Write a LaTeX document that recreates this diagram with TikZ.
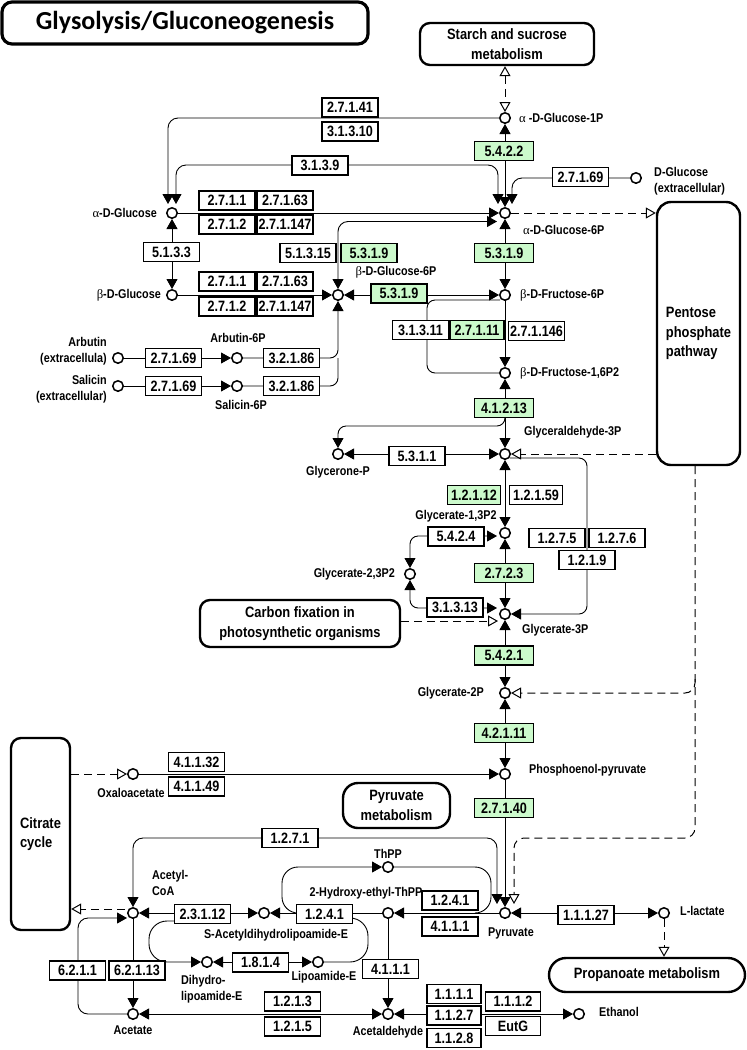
\documentclass[tikz,border=0pt]{standalone}
\usepackage{fontspec}
\setmainfont{Liberation Sans}
\newfontfamily\kfont[FakeStretch=0.84]{Liberation Sans}
\newfontfamily\lfont[FakeStretch=0.85]{Liberation Sans}
\newfontfamily\mfont[FakeStretch=0.86]{Liberation Sans}
\newfontfamily\grkfont{Liberation Serif}
\newfontfamily\ttlfont{Carlito}
\usetikzlibrary{arrows.meta,calc}
\definecolor{kgreen}{RGB}{204,250,204}
\newcommand{\galp}{{\grkfont\mdseries α}}
\newcommand{\gbet}{{\grkfont\mdseries β}}
\begin{document}
\begin{tikzpicture}[x=1pt,y=-1pt,
  cpd/.style={circle,draw,line width=1.5pt,fill=white,minimum size=10.5pt,inner sep=0pt},
  enz/.style={draw,line width=1.8pt,fill=white,minimum width=56pt,minimum height=19pt,inner sep=0pt,font=\kfont\bfseries\fontsize{15}{15}\selectfont},
  genz/.style={enz,fill=kgreen},
  cenz/.style={genz,minimum width=59pt},
  lbl/.style={inner sep=0pt,font=\lfont\bfseries\fontsize{12.7}{15.5}\selectfont},
  map/.style={draw,line width=2.4pt,rounded corners=10pt,align=center,font=\mfont\bfseries\fontsize{15}{19.5}\selectfont},
  rx/.style={line width=0.9pt},
  dsh/.style={line width=1pt,dash pattern=on 8pt off 5pt},
  >={Triangle[length=10pt,width=11pt]},
  otri/.tip={Triangle[open,length=10pt,width=11pt]}]
\useasboundingbox (0,0) rectangle (747,1050);

% ---------- pathway maps ----------
\node[map,line width=3.2pt,minimum width=366pt,minimum height=42pt,font=\ttlfont\bfseries\fontsize{26}{28}\selectfont] (title) at (185,23) {Glysolysis/Gluconeogenesis};
\node[map,minimum width=174pt,minimum height=42pt] (starch) at (507,44) {Starch and sucrose\\metabolism};
\node[map,align=left,minimum width=83pt,minimum height=263pt,rounded corners=14pt] (ppp) at (698.5,333.5) {Pentose\\phosphate\\pathway};
\node[map,minimum width=200pt,minimum height=47pt] (cfix) at (300,623.5) {Carbon fixation in\\photosynthetic organisms};
\node[map,align=left,minimum width=59pt,minimum height=192pt] (tca) at (40.5,834) {Citrate\\cycle};
\node[map,minimum width=107pt,minimum height=45pt,rounded corners=15pt] (pyrm) at (396.5,805.5) {Pyruvate\\metabolism};
\node[map,minimum width=196pt,minimum height=34pt,rounded corners=17pt] (prop) at (647,975) {Propanoate metabolism};

% ---------- compounds ----------
\node[cpd] (g1p) at (505,118) {};
\node[cpd] (g6p) at (505,213) {};
\node[cpd] (aglc) at (172,213) {};
\node[cpd] (bglc) at (172,295) {};
\node[cpd] (bg6p) at (338,295) {};
\node[cpd] (f6p) at (505,295) {};
\node[cpd] (f16) at (505,373) {};
\node[cpd] (gap) at (505,454) {};
\node[cpd] (dhap) at (338,454) {};
\node[cpd] (bpg13) at (505,533) {};
\node[cpd] (bpg23) at (410,574) {};
\node[cpd] (pg3) at (505,614) {};
\node[cpd] (pg2) at (505,693) {};
\node[cpd] (pep) at (505,774) {};
\node[cpd] (oaa) at (133,774) {};
\node[cpd] (pyr) at (505,913) {};
\node[cpd] (lac) at (664,913) {};
\node[cpd] (acoa) at (133,913) {};
\node[cpd] (sacl) at (264,913) {};
\node[cpd] (hetpp) at (388,913) {};
\node[cpd] (thpp) at (388,867) {};
\node[cpd] (dhl) at (207,962) {};
\node[cpd] (lip) at (318,962) {};
\node[cpd] (acet) at (133,1014) {};
\node[cpd] (acald) at (388,1014) {};
\node[cpd] (etoh) at (579,1014) {};
\node[cpd] (dglc) at (636,178) {};
\node[cpd] (arb) at (118,358) {};
\node[cpd] (arb6) at (237,358) {};
\node[cpd] (sal) at (118,386) {};
\node[cpd] (sal6) at (237,386) {};

% ---------- compound labels ----------
\node[lbl,anchor=west] (lg1p) at (519,118) {\galp\ -D-Glucose-1P};
\node[lbl,anchor=west] (lg6p) at (523,230) {\galp-D-Glucose-6P};
\node[lbl,anchor=east] (laglc) at (157,213) {\galp-D-Glucose};
\node[lbl,anchor=east] (lbglc) at (161,295) {\gbet-D-Glucose};
\node[lbl] (lbg6p) at (396,272) {\gbet-D-Glucose-6P};
\node[lbl,anchor=west] (lf6p) at (520,295) {\gbet-D-Fructose-6P};
\node[lbl,anchor=west] (lf16) at (520,373) {\gbet-D-Fructose-1,6P2};
\node[lbl,anchor=west] (lgap) at (524,432) {Glyceraldehyde-3P};
\node[lbl] (ldhap) at (338,472) {Glycerone-P};
\node[lbl] (lbpg13) at (456,516) {Glycerate-1,3P2};
\node[lbl,anchor=east] (lbpg23) at (395,574) {Glycerate-2,3P2};
\node[lbl,anchor=west] (lpg3) at (522,630) {Glycerate-3P};
\node[lbl,anchor=east] (lpg2) at (484,693) {Glycerate-2P};
\node[lbl,anchor=west] (lpep) at (529,770) {Phosphoenol-pyruvate};
\node[lbl] (loaa) at (131,793) {Oxaloacetate};
\node[lbl] (lpyr) at (511,933) {Pyruvate};
\node[lbl,anchor=west] (llac) at (680,911) {L-lactate};
\node[lbl] (lthpp) at (388,854) {ThPP};
\node[lbl] (lhetpp) at (366,893) {2-Hydroxy-ethyl-ThPP};
\node[lbl,anchor=west,align=left] (lacoa) at (152,883) {Acetyl-\\CoA};
\node[lbl] (lsacl) at (276,935) {S-Acetyldihydrolipoamide-E};
\node[lbl,anchor=west,align=left] (ldhl) at (181,989) {Dihydro-\\lipoamide-E};
\node[lbl] (llip) at (324,977) {Lipoamide-E};
\node[lbl] (lacet) at (133,1030) {Acetate};
\node[lbl] (lacald) at (388,1032) {Acetaldehyde};
\node[lbl,anchor=west] (letoh) at (599,1012) {Ethanol};
\node[lbl,anchor=west,align=left] (ldglc) at (654,181) {D-Glucose\\(extracellular)};
\node[lbl,anchor=east,align=right] (larb) at (107,351) {Arbutin\\(extracellula)};
\node[lbl] (larb6) at (238,338) {Arbutin-6P};
\node[lbl,anchor=east,align=right] (lsal) at (107,389) {Salicin\\(extracellular)};
\node[lbl] (lsal6) at (241,405) {Salicin-6P};

% ---------- connectors ----------
\draw[dsh,otri-otri] (g1p |- starch.south) -- (g1p);
\draw[rx,rounded corners=10pt,->] (g1p.west) -| ($(aglc)+(-4,-9)$);
\draw[rx,rounded corners=10pt,<->] ($(aglc)+(4,-9)$) |- ($(g6p)+(-7,-48)$) -- ($(g6p)+(-7,-9)$);
\draw[rx,rounded corners=10pt,->] (dglc.west) -| ($(g6p)+(7,-9)$);
\draw[rx,<->] (g1p) -- (g6p);
\draw[rx,<->] (g6p) -- (f6p);
\draw[rx,->] (f6p) -- (f16);
\draw[rx,<->] (f16) -- (gap);
\draw[rx,<->] (gap) -- (bpg13);
\draw[rx,<->] (bpg13) -- (pg3);
\draw[rx,<->] (pg3) -- (pg2);
\draw[rx,<->] (pg2) -- (pep);
\draw[rx,->] (pep) -- (pyr);
\draw[rx,->] (aglc) -- (g6p);
\draw[rx,<->] (aglc) -- (bglc);
\draw[rx,->] (bglc) -- (bg6p);
\draw[rx,rounded corners=10pt,<->] (bg6p.north) |- ($(g6p)+(-8,8.5)$);
\draw[rx,<->] (bg6p) -- (f6p);
\draw[rx,->] (arb) -- (arb6);
\draw[rx,->] (sal) -- (sal6);
\draw[rx,rounded corners=8pt,->] (arb6.east) -| (bg6p.south);
\draw[rx,rounded corners=8pt] (sal6.east) -| ($(bg6p)+(0,63)$);
\draw[rx,rounded corners=8pt] (f16.west) -| ($(f6p)+(-78,5)$) -- ($(f6p)+(-5,5)$);
\draw[rx,rounded corners=8pt,->] ($(f16)+(0,43)$) |- ($(dhap)+(0,-28)$) -- (dhap.north);
\draw[rx,<->] (dhap) -- (gap);
\draw[rx,rounded corners=8pt,->] ($(gap)+(5,4)$) -- ($(gap)+(82,4)$) |- (pg3.east);
\draw[dsh,-otri] (ppp.west |- gap) -- (gap);
\draw[dsh,-otri] (g6p) -- (ppp.west |- g6p);
\draw[dsh,-otri] ($(cfix.east)+(0,-2.5)$) -- ($(pg3)+(-7,7)$);
\draw[rx,rounded corners=8pt,<->] (bpg23.north) |- ($(bpg13)+(-8,3)$);
\draw[rx,rounded corners=8pt,<->] (bpg23.south) |- ($(pg3)+(-8,-6)$);
\draw[dsh,rounded corners=10pt,-otri] ($(ppp.south)+(-3.5,0)$) |- ($(pyr)+(9,-75)$) -- ($(pyr)+(9,-9)$);
\draw[dsh,rounded corners=10pt,-otri] ($(ppp.south)+(-3.5,213)$) |- (pg2.east);
\draw[dsh,-otri] (tca.east |- oaa) -- (oaa);
\draw[rx,->] (oaa) -- (pep);
\draw[rx,rounded corners=10pt,<->] (acoa.north) |- ($(pyr)+(-8,-75)$) -- ($(pyr)+(-8,-9)$);
\draw[rx,<->] (pyr) -- (lac);
\draw[dsh,-otri] (lac) -- (lac |- prop.north);
\draw[rx,->] (pyr) -- (hetpp);
\draw[rx,->] (hetpp) -- (sacl);
\draw[rx,<->] (acoa) -- (sacl);
\draw[rx,rounded corners=16pt,->] ($(sacl)+(36,0)$) -| ($(thpp)+(-106,0)$) -- (thpp.west);
\draw[rx,rounded corners=16pt] (thpp.east) -| ($(pyr)+(-14,0)$) -- ($(pyr)+(-30,0)$);
\draw[rx,rounded corners=18pt,->] ($(acoa)+(55,8)$) -| ($(dhl)+(-58,0)$) -- (dhl.west);
\draw[rx,<->] (dhl) -- (lip);
\draw[rx,rounded corners=18pt] (lip.east) -| ($(hetpp)+(-20,5)$) -- ($(hetpp)+(-45,5)$);
\draw[rx,->] (hetpp) -- (acald);
\draw[rx,->] (acoa) -- (acet);
\draw[rx,rounded corners=10pt,->] (acet.west) -| ($(acoa)+(-55,5)$) -- ($(acoa)+(-6,5)$);
\draw[dsh,-otri] ($(acoa.west)+(-2,-4)$) -- ($(tca.east)+(0,75)$);
\draw[rx,<->] (acet) -- (acald);
\draw[rx,<->] (acald) -- (etoh);

% ---------- enzymes ----------
\node[enz] (e1) at (350,107.5) {2.7.1.41};
\node[enz] (e2) at (350,131.5) {3.1.3.10};
\node[enz] (e3) at (320,165.5) {3.1.3.9};
\node[cenz] (e4) at (504,151) {5.4.2.2};
\node[enz] (e5) at (580.5,177) {2.7.1.69};
\node[enz] (e6) at (227,200.5) {2.7.1.1};
\node[enz] (e7) at (285,200.5) {2.7.1.63};
\node[enz] (e8) at (227,224.5) {2.7.1.2};
\node[enz] (e9) at (285,224.5) {2.7.1.147};
\node[enz] (e10) at (171.5,252) {5.1.3.3};
\node[enz] (e11) at (308,253) {5.1.3.15};
\node[genz] (e12) at (369,253) {5.3.1.9};
\node[cenz] (e13) at (504,253) {5.3.1.9};
\node[enz] (e14) at (227,281.5) {2.7.1.1};
\node[enz] (e15) at (285,281.5) {2.7.1.63};
\node[enz] (e16) at (227,306.5) {2.7.1.2};
\node[enz] (e17) at (285,306.5) {2.7.1.147};
\node[genz] (e18) at (399,293.5) {5.3.1.9};
\node[enz] (e19) at (420.5,330) {3.1.3.11};
\node[genz,minimum width=54pt] (e20) at (477,330) {2.7.1.11};
\node[enz] (e21) at (536.5,331) {2.7.1.146};
\node[enz] (e22) at (173.5,358) {2.7.1.69};
\node[enz] (e23) at (173.5,386) {2.7.1.69};
\node[enz] (e24) at (291.5,358) {3.2.1.86};
\node[enz] (e25) at (291.5,386) {3.2.1.86};
\node[cenz] (e26) at (504,408) {4.1.2.13};
\node[enz] (e27) at (417,456) {5.3.1.1};
\node[genz,minimum width=53pt] (e28) at (474,495) {1.2.1.12};
\node[enz,minimum width=53pt] (e29) at (536,495) {1.2.1.59};
\node[enz] (e30) at (456,536.5) {5.4.2.4};
\node[enz] (e31) at (557,538) {1.2.7.5};
\node[enz] (e32) at (617,538) {1.2.7.6};
\node[enz] (e33) at (587,560) {1.2.1.9};
\node[cenz] (e34) at (504,573) {2.7.2.3};
\node[enz] (e35) at (455,607.5) {3.1.3.13};
\node[cenz] (e36) at (504,655.5) {5.4.2.1};
\node[cenz] (e37) at (504,733) {4.2.1.11};
\node[enz] (e38) at (196.5,762) {4.1.1.32};
\node[enz] (e39) at (196.5,786.5) {4.1.1.49};
\node[cenz] (e40) at (504,808) {2.7.1.40};
\node[enz] (e41) at (290,838) {1.2.7.1};
\node[enz] (e42) at (202.5,914) {2.3.1.12};
\node[enz] (e43) at (324.5,914) {1.2.4.1};
\node[enz] (e44) at (450,900.5) {1.2.4.1};
\node[enz] (e45) at (450,926.5) {4.1.1.1};
\node[enz] (e46) at (586,915) {1.1.1.27};
\node[enz] (e47) at (77.5,970.5) {6.2.1.1};
\node[enz] (e48) at (137,970.5) {6.2.1.13};
\node[enz] (e49) at (260.5,962.5) {1.8.1.4};
\node[enz] (e50) at (390.5,969) {4.1.1.1};
\node[enz] (e51) at (292.5,1001.5) {1.2.1.3};
\node[enz] (e52) at (292.5,1026.5) {1.2.1.5};
\node[enz,minimum width=54pt] (e53) at (454,994) {1.1.1.1};
\node[enz,minimum width=54pt] (e54) at (454,1015.5) {1.1.2.7};
\node[enz,minimum width=54pt] (e55) at (454,1038) {1.1.2.8};
\node[enz,minimum width=55pt] (e56) at (513,1001.5) {1.1.1.2};
\node[enz,minimum width=55pt] (e57) at (513,1026) {EutG};
\end{tikzpicture}
\end{document}
